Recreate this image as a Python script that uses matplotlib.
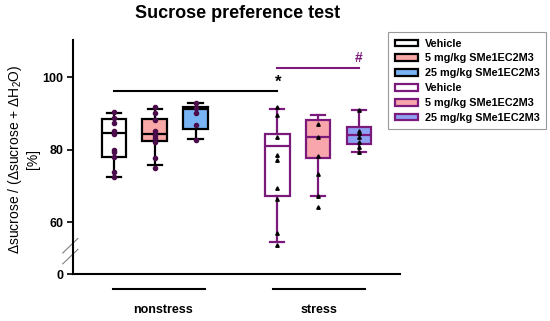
import matplotlib.pyplot as plt
import matplotlib.transforms as mtransforms
from matplotlib.patches import Patch

plt.rcParams['font.family'] = ['Liberation Sans', 'DejaVu Sans']
plt.rcParams['mathtext.default'] = 'regular'

# group layout
positions = [1, 2, 3, 5, 6, 7]
legend_labels = ["Vehicle", "5 mg/kg SMe1EC2M3", "25 mg/kg SMe1EC2M3",
                 "Vehicle", "5 mg/kg SMe1EC2M3", "25 mg/kg SMe1EC2M3"]

# box statistics
medians = [84.6, 84.3, 91.1, 81.0, 83.4, 84.0]
q1 = [78.0, 82.3, 85.7, 67.2, 77.8, 81.5]
q3 = [88.3, 88.3, 91.8, 84.3, 88.1, 86.1]
whis_lo = [72.5, 75.8, 82.8, 54.6, 67.1, 79.4]
whis_hi = [90.0, 91.1, 92.9, 91.1, 89.5, 90.9]

# individual animals
points = [
    [90.4, 88.6, 87.2, 85.2, 84.3, 80.0, 79.2, 78.0, 73.9, 72.3],
    [91.8, 90.2, 88.1, 85.2, 84.0, 83.3, 82.2, 77.6, 75.0],
    [92.7, 91.4, 90.2, 86.8, 82.6],
    [91.8, 89.5, 83.4, 78.5, 77.1, 69.3, 66.5, 56.9, 53.7],
    [87.0, 83.4, 78.2, 73.4, 67.1, 64.2],
    [90.9, 85.2, 84.5, 83.4, 82.2, 80.8, 79.4],
]

fills = ["white", "#f8a8a6", "#78b4f4", "white", "#f8a6ac", "#8ea2f4"]
purple = "#7a1a7a"
edges = ["black"] * 3 + [purple] * 3

fig = plt.figure(figsize=(5.5, 3.21), dpi=100)
ax = fig.add_axes([0.1327, 0.1464, 0.5945, 0.729])

stats = []
for i in range(6):
    stats.append(dict(med=medians[i], q1=q1[i], q3=q3[i],
                      whislo=whis_lo[i], whishi=whis_hi[i], fliers=[]))

for i in range(6):
    c = edges[i]
    ax.bxp([stats[i]], positions=[positions[i]], widths=0.6, patch_artist=True,
           showfliers=False,
           boxprops=dict(facecolor=fills[i], edgecolor=c, linewidth=1.6),
           medianprops=dict(color=c, linewidth=1.6),
           whiskerprops=dict(color=c, linewidth=1.6),
           capprops=dict(color=c, linewidth=1.6), capwidths=0.35)
    if i < 3:
        ax.plot([positions[i]] * len(points[i]), points[i], 'o', color="#4a0c4a",
                markersize=3, zorder=5)
    else:
        ax.plot([positions[i]] * len(points[i]), points[i], '^', color="black",
                markersize=2.5, zorder=5)

# significance bars
ax.plot([1, 5], [96.1, 96.1], color="black", lw=1.5)
ax.text(5.02, 96.6, "*", ha="center", va="bottom", fontsize=12, fontweight="bold")
ax.plot([5, 7], [102.6, 102.6], color=purple, lw=1.5)
ax.text(6.98, 103.2, "#", ha="center", va="bottom", fontsize=10,
        fontweight="bold", color=purple)

ymin = 45.7
ax.set_xlim(0, 8)
ax.set_ylim(ymin, 110.2)
ax.set_yticks([ymin, 60, 80, 100])
ax.set_yticklabels(["0", "60", "80", "100"], fontweight="bold", fontsize=9)
ax.set_xticks([])
ax.spines["top"].set_visible(False)
ax.spines["right"].set_visible(False)
ax.spines["left"].set_linewidth(1.5)
ax.spines["bottom"].set_linewidth(1.5)
ax.tick_params(axis="y", length=4, width=1.2, pad=3)

# axis break marks
for dy in (0, 3):
    ax.plot([-0.25, 0.12], [48.5 + dy, 52.5 + dy], color="gray", lw=0.8,
            clip_on=False)

# group labels under the axis
trans = mtransforms.blended_transform_factory(ax.transData, ax.transAxes)
ax.plot([0.98, 3.22], [-0.065, -0.065], color="black", lw=1.5,
        transform=trans, clip_on=False)
ax.plot([4.9, 7.15], [-0.065, -0.065], color="black", lw=1.5,
        transform=trans, clip_on=False)
ax.text(2.2, -0.155, "nonstress", transform=trans, ha="center", va="center",
        fontsize=9, fontweight="bold")
ax.text(6.02, -0.155, "stress", transform=trans, ha="center", va="center",
        fontsize=9, fontweight="bold")

ax.set_ylabel("Δsucrose / (Δsucrose + ΔH$_2$O)\n[%]", fontsize=10,
              linespacing=1.25)
ax.yaxis.set_label_coords(-0.1, 0.49)

fig.text(0.432, 0.958, "Sucrose preference test", ha="center", va="center",
         fontsize=13, fontweight="bold")

handles = [Patch(facecolor=fills[i], edgecolor=edges[i], linewidth=1.6)
           for i in range(6)]
leg = fig.legend(handles, legend_labels, loc="upper left",
                 bbox_to_anchor=(0.7055, 0.9), frameon=True, fancybox=False,
                 edgecolor="gray", prop=dict(weight="bold", size=7.8),
                 handlelength=2.2, handleheight=0.55, labelspacing=0.45,
                 borderpad=0.6, handletextpad=0.6, borderaxespad=0)
leg.get_frame().set_linewidth(0.8)

fig.savefig("out.png", dpi=100)
